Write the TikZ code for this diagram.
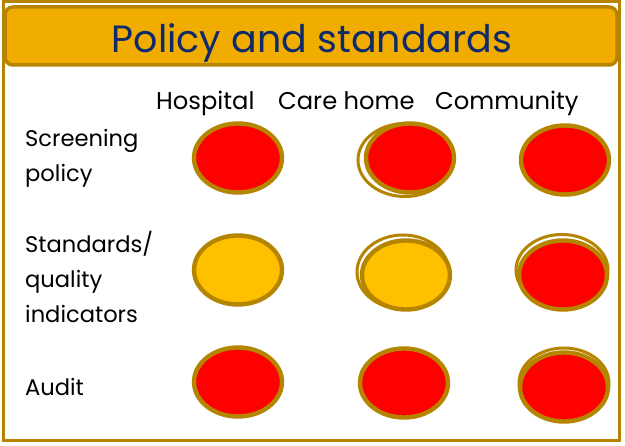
\documentclass[tikz,border=0pt]{standalone}
\usepackage{fontspec}
\setmainfont{Poppins}
\usetikzlibrary{shapes.geometric}
\definecolor{brd}{HTML}{B58500}
\definecolor{barfill}{HTML}{F0AD00}
\definecolor{navy}{HTML}{0E2A6B}
\definecolor{amber}{HTML}{FFC000}
\definecolor{rd}{HTML}{FF0000}
\begin{document}
\begin{tikzpicture}[x=1pt,y=-1pt,
  lbl/.style={anchor=base west,inner sep=0pt,font=\fontsize{22.6}{26}\selectfont,text=black},
  hdr/.style={anchor=base west,inner sep=0pt,font=\fontsize{24.2}{28}\selectfont,text=black},
  dot/.style={ellipse,draw=brd,line width=4.4pt,minimum width=88pt,minimum height=69pt,inner sep=0pt},
  sketch/.style={draw=brd,line width=3pt},
  reddot/.style={dot,fill=rd},
  ambdot/.style={dot,fill=amber}]
\useasboundingbox (0,0) rectangle (625,446);
\fill[white] (0,0) rectangle (625,446);
\draw[brd,line width=3pt] (3,1.5) rectangle (619,441);
\draw[brd,line width=3.5pt,fill=barfill,rounded corners=8pt] (5,7) rectangle (617,65);
\node[anchor=base,inner sep=0pt,text=navy,font=\fontsize{38}{44}\selectfont] (title) at (312,53) {Policy and standards};
\node[hdr] (hosp) at (156,110) {Hospital};
\node[hdr] (care) at (278,110) {Care home};
\node[hdr] (comm) at (435,110) {Community};
\node[lbl] (s1) at (25,147) {Screening};
\node[lbl] (s2) at (25,182) {policy};
\node[lbl] (q1) at (25,253) {Standards/};
\node[lbl] (q2) at (25,288) {quality};
\node[lbl] (q3) at (25,323) {indicators};
\node[lbl] (au) at (25,396) {Audit};
% sketch strokes
\draw[sketch] (405,160) ellipse (47pt and 36.5pt);
\draw[sketch] (403,272) ellipse (46pt and 37pt);
\draw[sketch] (562,270) ellipse (46pt and 35.5pt);
\draw[sketch] (564,383) ellipse (45pt and 35pt);
\node[reddot] (e11) at (238,158) {};
\node[reddot] (e12) at (410,158) {};
\node[reddot] (e13) at (565,160) {};
\node[ambdot] (e21) at (238,270) {};
\node[ambdot] (e22) at (406,275) {};
\node[reddot] (e23) at (563,275) {};
\node[reddot] (e31) at (238,382) {};
\node[reddot] (e32) at (404,383) {};
\node[reddot] (e33) at (564,387) {};
\end{tikzpicture}
\end{document}
